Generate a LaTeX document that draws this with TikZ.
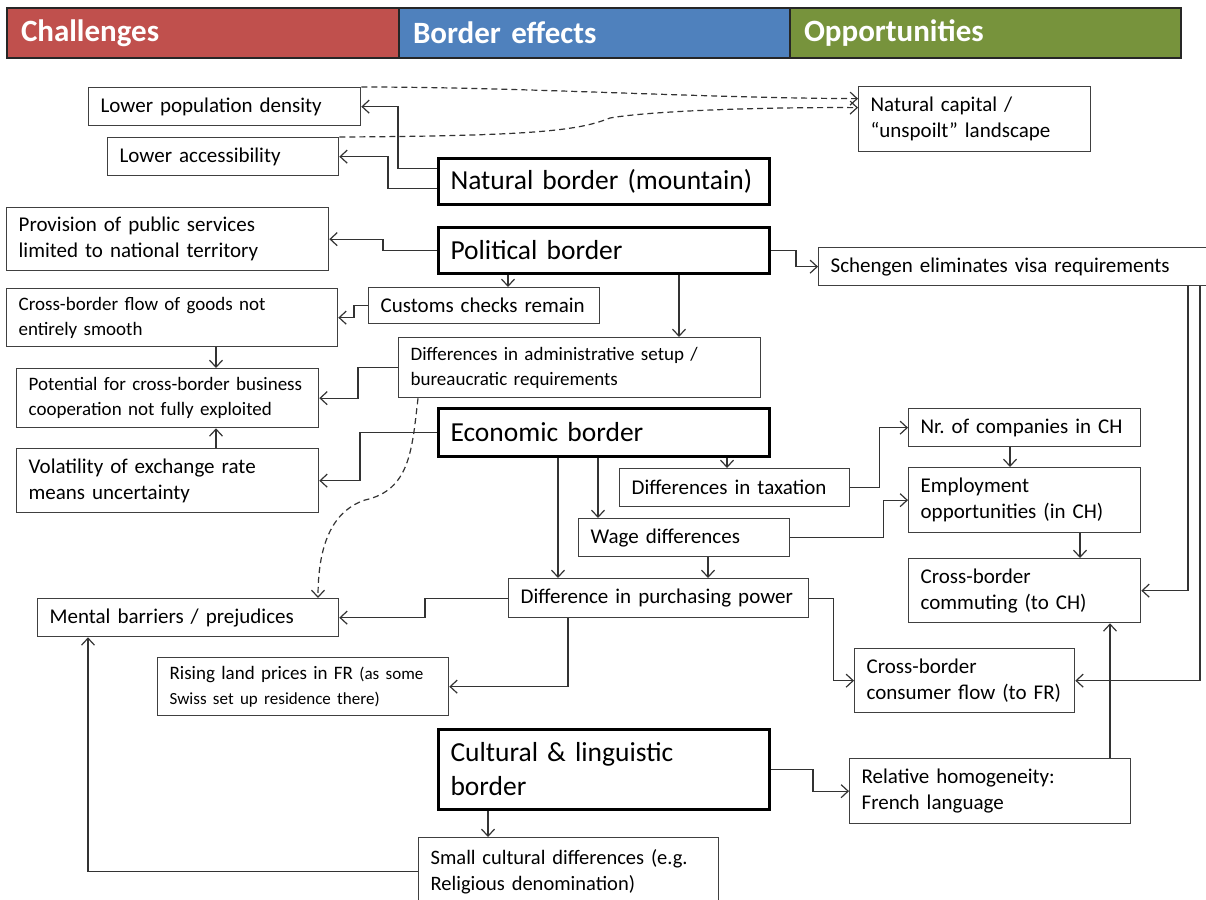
\documentclass[tikz,border=0pt]{standalone}
\usepackage{fontspec}
\setmainfont{Carlito}
\usetikzlibrary{arrows.meta}
\frenchspacing
\definecolor{chalred}{HTML}{C0504D}
\definecolor{effblue}{HTML}{4F81BD}
\definecolor{oppgreen}{HTML}{77933C}
\newcommand{\boxfont}{\fontsize{21}{26}\selectfont}
\newcommand{\midfont}{\fontsize{19}{25}\selectfont}
\newcommand{\bigfont}{\fontsize{27.5}{34}\selectfont}
\newcommand{\headfont}{\fontsize{31}{36}\selectfont\bfseries}
\tikzset{
  box/.style={draw=black!75, line width=1.3pt, anchor=north west, align=left,
    inner xsep=12pt, inner ysep=2pt, font=\boxfont},
  mainbox/.style={box, draw=black, line width=3pt, font=\bigfont},
  head/.style={draw=black!85, line width=2pt, anchor=north west, align=left,
    inner xsep=14pt, minimum height=50, text=white, font=\headfont},
  arr/.style={draw=black!80, line width=1.2pt, -{Straight Barb[length=7pt,width=13pt]}},
  dashline/.style={arr, dash pattern=on 6pt off 4pt},
}

\begin{document}
\begin{tikzpicture}[x=1pt, y=-1pt]
  \useasboundingbox (0,0) rectangle (1206,899);
  % header
  \node[head, fill=chalred, text width=364] (chal) at (6,7) {Challenges};
  \node[head, fill=effblue, text width=363] (beff) at (398,7) {Border effects};
  \node[head, fill=oppgreen, text width=363] (opp) at (789,7) {Opportunities};
  % the borders
  \node[mainbox, text width=307, minimum height=46] (natural) at (437,157) {Natural border (mountain)};
  \node[mainbox, text width=307, minimum height=46] (political) at (437,226) {Political border};
  \node[mainbox, text width=307, minimum height=48] (economic) at (437,407) {Economic border};
  \node[mainbox, text width=307, minimum height=80] (cultural) at (437,728) {Cultural \& linguistic\\border};
  % challenges
  \node[box, text width=248, minimum height=38] (popdens) at (88,87) {Lower population density};
  \node[box, text width=207, minimum height=38] (access) at (107,137) {Lower accessibility};
  \node[box, text width=298, minimum height=63] (public) at (6,207) {Provision of public services\\limited to national territory};
  \node[box, text width=307, minimum height=58, font=\midfont] (goods) at (6,288) {Cross-border flow of goods not\\entirely smooth};
  \node[box, text width=278, minimum height=59, font=\midfont] (potential) at (16,368) {Potential for cross-border business\\cooperation not fully exploited};
  \node[box, text width=278, minimum height=64] (volatility) at (16,448) {Volatility of exchange rate\\means uncertainty};
  \node[box, text width=277, minimum height=38] (mental) at (37,598) {Mental barriers / prejudices};
  \node[box, text width=267, minimum height=58, font=\fontsize{19}{25}\selectfont] (land) at (157,657)
    {Rising land prices in FR {\fontsize{17}{25}\selectfont (as some\\Swiss set up residence there)}};
  % border effects
  \node[box, text width=207, minimum height=36] (customs) at (368,287) {Customs checks remain};
  \node[box, text width=338, minimum height=60, font=\midfont] (admin) at (398,337) {Differences in administrative setup /\\bureaucratic requirements};
  \node[box, text width=206, minimum height=38] (taxation) at (619,468) {Differences in taxation};
  \node[box, text width=187, minimum height=38] (wage) at (578,518) {Wage differences};
  \node[box, text width=276, minimum height=39] (purchasing) at (508,578) {Difference in purchasing power};
  \node[box, text width=276, minimum height=68, font=\fontsize{20.5}{26}\selectfont] (small) at (418,837) {Small cultural differences (e.g.\\Religious denomination)};
  % opportunities
  \node[box, text width=208, minimum height=65] (natcap) at (858,86) {Natural capital /\\``unspoilt'' landscape};
  \node[box, text width=376, minimum height=38] (schengen) at (818,247) {Schengen eliminates visa requirements};
  \node[box, text width=208, minimum height=38] (companies) at (908,408) {Nr. of companies in CH};
  \node[box, text width=208, minimum height=65] (employment) at (908,467) {Employment\\opportunities (in CH)};
  \node[box, text width=208, minimum height=64] (commuting) at (908,558) {Cross-border\\commuting (to CH)};
  \node[box, text width=196, minimum height=64] (consumer) at (854,648) {Cross-border\\consumer flow (to FR)};
  \node[box, text width=257, minimum height=65] (homog) at (849,758) {Relative homogeneity:\\French language};
  % links
  \draw[arr] ([yshift=13pt]natural.west) -- ++(-39,0) |- (popdens);
  \draw[arr] ([yshift=-7pt]natural.west) -- ++(-49,0) |- (access);
  \draw[dashline] (popdens.north east) .. controls (520,87) and (700,98) .. ([yshift=20.5pt]natcap.west);
  \draw[dashline] (access.north east) .. controls (540,136) and (580,130) .. (610,118)
    .. controls (650,111) and (760,107) .. ([yshift=11.5pt]natcap.west);
  \draw[arr] (political.west) -- ++(-54,0) |- (public);
  \draw[arr] (political.south -| 508,0) -- (customs.north -| 508,0);
  \draw[arr] (political.south -| 679,0) -- (admin.north -| 679,0);
  \draw[arr] (political.east) -- ++(25,0) |- (schengen);
  \draw[arr] (customs.west) -- ++(-14,0) |- (goods);
  \draw[arr] (goods.south -| 216,0) -- (potential.north -| 216,0);
  \draw[arr] (admin.west) -- ++(-40,0) |- (potential);
  \draw[arr] (volatility.north -| 216,0) -- (potential.south -| 216,0);
  \draw[arr] (economic.west) -- ++(-77,0) |- (volatility);
  \draw[dashline] (admin.south -| 418,0) .. controls (412,450) and (410,490) .. (365,500)
    .. controls (335,510) and (318,540) .. (mental.north -| 318,0);
  \draw[arr] (economic.south -| 727,0) -- (taxation.north -| 727,0);
  \draw[arr] (economic.south -| 598,0) -- (wage.north -| 598,0);
  \draw[arr] (economic.south -| 558,0) -- (purchasing.north -| 558,0);
  \draw[arr] (taxation.east) -- ++(29,0) |- (companies);
  \draw[arr] (wage.east) -- ++(93,0) |- (employment);
  \draw[arr] (companies.south -| 1010,0) -- (employment.north -| 1010,0);
  \draw[arr] (employment.south -| 1080,0) -- (commuting.north -| 1080,0);
  \draw[arr] (wage.south -| 708,0) -- (purchasing.north -| 708,0);
  \draw[arr] (schengen.south -| 1188,0) |- (commuting);
  \draw[arr] (schengen.south -| 1200,0) |- (consumer);
  \draw[arr] (purchasing.east) -- ++(24,0) |- (consumer);
  \draw[arr] (purchasing.west) -- ++(-83,0) |- (mental);
  \draw[arr] (purchasing.south -| 568,0) |- (land);
  \draw[arr] (cultural.east) -- ++(42,0) |- (homog);
  \draw[arr] (homog.north -| 1110,0) -- (commuting.south -| 1110,0);
  \draw[arr] (cultural.south -| 488,0) -- (small.north -| 488,0);
  \draw[arr] (small.west) -| (mental.south -| 88,0);
\end{tikzpicture}
\end{document}
